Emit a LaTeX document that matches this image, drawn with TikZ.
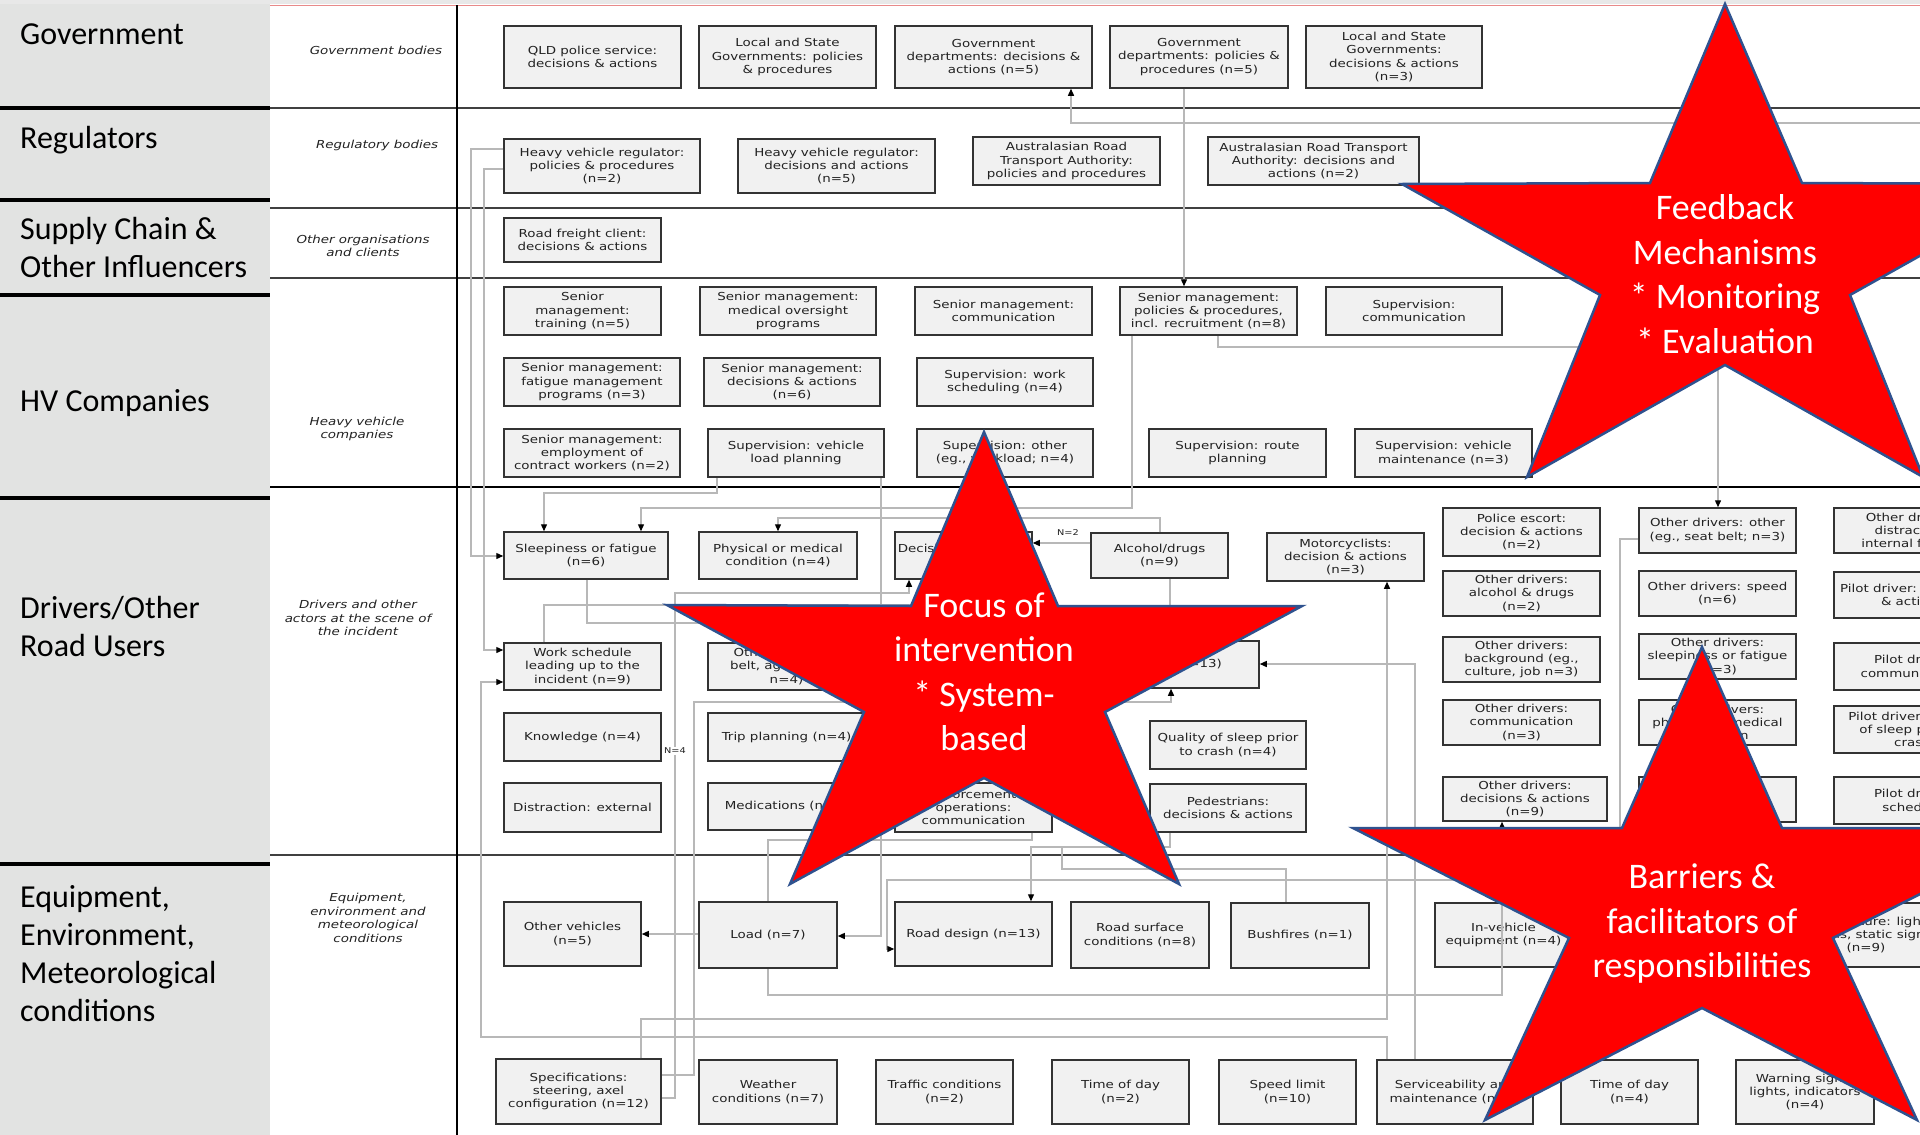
\documentclass[tikz,border=0pt]{standalone}
\usepackage{fontspec}
\setmainfont{Carlito}
\newfontfamily\boxfont[FakeStretch=1.22]{DejaVu Sans}
\newfontfamily\itlfont[FakeStretch=1.22]{DejaVu Sans Oblique}
\usetikzlibrary{arrows.meta,calc}
\definecolor{leftgrey}{HTML}{E2E3E2}
\definecolor{boxfill}{HTML}{F1F1F1}
\definecolor{boxdraw}{HTML}{333333}
\definecolor{textdark}{HTML}{222222}
\definecolor{conngrey}{HTML}{B8B8B8}
\definecolor{gridgrey}{HTML}{404040}
\definecolor{starred}{HTML}{FF0000}
\definecolor{starblue}{HTML}{2F528F}
\definecolor{pinkline}{HTML}{E88A8A}
\definecolor{topband}{HTML}{E8E8E8}
\tikzset{
  box/.style={draw=boxdraw, fill=boxfill, line width=1.5pt, inner sep=1pt, align=center, text=textdark,
    font=\boxfont\fontsize{11}{13.3}\selectfont},
  sidelabel/.style={anchor=north west, inner sep=0pt, align=left, font=\fontsize{32}{38}\selectfont},
  itlabel/.style={inner sep=0pt, align=center, text=textdark, font=\itlfont\fontsize{11}{13.5}\selectfont},
  conn/.style={draw=conngrey, line width=1.3pt},
  arr/.style={conn, -{Triangle[length=7pt,width=6pt,color=black]}},
  nlabel/.style={inner sep=1pt, font=\boxfont\fontsize{8}{9}\selectfont, text=textdark},
  starshape/.style={fill=starred, draw=starblue, line width=2.5pt, line join=miter},
  startext/.style={inner sep=0pt, align=center, text=white, font=\fontsize{36}{44.5}\selectfont},
  gridline/.style={draw=gridgrey, line width=2pt},
  leftrule/.style={draw=black, line width=3.5pt}
}
\newcommand{\mybox}[6]{%
  \pgfmathsetmacro{\bw}{#4-#2}\pgfmathsetmacro{\bh}{#5-#3}%
  \pgfmathsetmacro{\bcx}{(#2+#4)/2}\pgfmathsetmacro{\bcy}{(#3+#5)/2}%
  \node[box, minimum width=\bw pt, minimum height=\bh pt] (#1) at (\bcx,\bcy) {#6};}
\begin{document}
\begin{tikzpicture}[x=1pt,y=-1pt]
\useasboundingbox (0,0) rectangle (1920,1135);
\clip (0,0) rectangle (1920,1135);
\fill[white] (0,0) rectangle (1920,1135);
% background bands
\fill[topband] (0,0) rectangle (1920,4);
\fill[leftgrey] (0,4) rectangle (270,1135);
\draw[pinkline, line width=1pt] (270,5) -- (1920,5);
% left rules
\foreach \yy in {108,200,295,498,864} { \draw[leftrule] (0,\yy) -- (270,\yy); }
% grid
\foreach \yy in {108,208,278} { \draw[gridline] (270,\yy) -- (1920,\yy); }
\draw[gridline, draw=black, line width=2.2pt] (270,487) -- (1920,487);
\draw[gridline, line width=2.2pt] (270,855) -- (1920,855);
\draw[black, line width=2pt] (457,5) -- (457,1135);

% side labels
\node[sidelabel] (lgov) at (20,24) {Government};
\node[sidelabel] (lreg) at (20,126) {Regulators};
\node[sidelabel] (lsup) at (20,217) {Supply Chain \&\\Other Influencers};
\node[sidelabel] (lhv) at (20,389) {HV Companies};
\node[sidelabel] (ldrv) at (20,596) {Drivers/Other\\Road Users};
\node[sidelabel] (leqp) at (20,885) {Equipment,\\Environment,\\Meteorological\\conditions};

% italic labels
\node[itlabel] (igb) at (376,50) {Government bodies};
\node[itlabel] (irb) at (377,145) {Regulatory bodies};
\node[itlabel] (ioo) at (363,246) {Other organisations\\and clients};
\node[itlabel] (ihv) at (357,429) {Heavy vehicle\\companies};
\node[itlabel] (idr) at (358,618) {Drivers and other\\actors at the scene of\\the incident};
\node[itlabel] (ieq) at (368,918) {Equipment,\\environment and\\meteorological\\conditions};

% Government
\mybox{qld}{504}{26}{681}{88}{QLD police service:\\decisions \& actions}
\mybox{lsgp}{699}{26}{876}{88}{Local and State\\Governments: policies\\\& procedures}
\mybox{gdd}{895}{26}{1092}{88}{Government\\departments: decisions \&\\actions (n=5)}
\mybox{gdp}{1110}{26}{1288}{88}{Government\\departments: policies \&\\procedures (n=5)}
\mybox{lsgd}{1306}{26}{1482}{88}{Local and State\\Governments:\\decisions \& actions\\(n=3)}
% Regulators
\mybox{hvrp}{504}{139}{700}{193}{Heavy vehicle regulator:\\policies \& procedures\\(n=2)}
\mybox{hvrd}{738}{139}{935}{193}{Heavy vehicle regulator:\\decisions and actions\\(n=5)}
\mybox{artap}{973}{137}{1160}{185}{Australasian Road\\Transport Authority:\\policies and procedures}
\mybox{artad}{1208}{137}{1419}{185}{Australasian Road Transport\\Authority: decisions and\\actions (n=2)}
% Supply chain
\mybox{rfc}{504}{218}{661}{262}{Road freight client:\\decisions \& actions}
% HV companies
\mybox{smt}{504}{287}{661}{335}{Senior\\management:\\training (n=5)}
\mybox{smm}{700}{287}{876}{335}{Senior management:\\medical oversight\\programs}
\mybox{smc}{915}{287}{1092}{335}{Senior management:\\communication}
\mybox{smp}{1120}{287}{1297}{335}{Senior management:\\policies \& procedures,\\incl. recruitment (n=8)}
\mybox{supc}{1326}{287}{1502}{335}{Supervision:\\communication}
\mybox{smf}{504}{358}{680}{406}{Senior management:\\fatigue management\\programs (n=3)}
\mybox{smd}{704}{358}{880}{406}{Senior management:\\decisions \& actions\\(n=6)}
\mybox{supw}{917}{358}{1093}{406}{Supervision: work\\scheduling (n=4)}
\mybox{sme}{504}{429}{680}{477}{Senior management:\\employment of\\contract workers (n=2)}
\mybox{supl}{708}{429}{884}{477}{Supervision: vehicle\\load planning}
\mybox{supo}{917}{429}{1093}{477}{Supervision: other\\(eg., workload; n=4)}
\mybox{supr}{1149}{429}{1326}{477}{Supervision: route\\planning}
\mybox{supm}{1355}{429}{1532}{477}{Supervision: vehicle\\maintenance (n=3)}
% Drivers
\mybox{slp}{504}{532}{668}{579}{Sleepiness or fatigue\\(n=6)}
\mybox{phy}{699}{532}{857}{579}{Physical or medical\\condition (n=4)}
\mybox{dec}{895}{532}{1032}{579}{Decisions \& actions\\\phantom{(n)}}
\mybox{alc}{1091}{533}{1228}{578}{Alcohol/drugs\\(n=9)}
\mybox{mot}{1267}{533}{1424}{581}{Motorcyclists:\\decision \& actions\\(n=3)}
\mybox{wsch}{504}{643}{661}{690}{Work schedule\\leading up to the\\incident (n=9)}
\mybox{oth}{708}{643}{865}{690}{Other (eg., seat\\belt, age, speed;\\n=4)}
\mybox{n13}{1091}{641}{1259}{688}{Speed (n=13)}
\mybox{kno}{504}{713}{661}{761}{Knowledge (n=4)}
\mybox{trip}{708}{713}{865}{761}{Trip planning (n=4)}
\mybox{dis}{504}{783}{661}{832}{Distraction: external}
\mybox{med}{708}{783}{865}{830}{Medications (n=3)}
\mybox{enf}{895}{783}{1052}{832}{Enforcement\\operations:\\communication}
\mybox{qos}{1150}{721}{1306}{769}{Quality of sleep prior\\to crash (n=4)}
\mybox{ped}{1150}{784}{1306}{832}{Pedestrians:\\decisions \& actions}
\mybox{pol}{1443}{508}{1600}{556}{Police escort:\\decision \& actions\\(n=2)}
\mybox{oda}{1443}{571}{1600}{616}{Other drivers:\\alcohol \& drugs\\(n=2)}
\mybox{odb}{1443}{637}{1600}{682}{Other drivers:\\background (eg.,\\culture, job n=3)}
\mybox{odc}{1443}{700}{1600}{745}{Other drivers:\\communication\\(n=3)}
\mybox{odd}{1443}{777}{1607}{821}{Other drivers:\\decisions \& actions\\(n=9)}
\mybox{odo}{1639}{508}{1796}{553}{Other drivers: other\\(eg., seat belt; n=3)}
\mybox{ods}{1639}{571}{1796}{616}{Other drivers: speed\\(n=6)}
\mybox{odf}{1639}{634}{1796}{679}{Other drivers:\\sleepiness or fatigue\\(n=3)}
\mybox{odp}{1639}{700}{1796}{745}{Other drivers:\\physical or medical\\condition}
\mybox{odx}{1639}{777}{1796}{822}{}
\mybox{odi}{1834}{508}{1991}{553}{Other drivers:\\distraction:\\internal factors}
\mybox{pdd}{1834}{572}{1991}{618}{Pilot driver: decisions\\\& actions}
\mybox{pdc}{1834}{643}{1991}{690}{Pilot driver:\\communication}
\mybox{pdq}{1834}{706}{1991}{753}{Pilot driver: quality\\of sleep prior to\\crash}
\mybox{pds}{1834}{777}{1991}{824}{Pilot driver:\\schedule}
% Equipment
\mybox{ov}{504}{902}{641}{966}{Other vehicles\\(n=5)}
\mybox{load}{699}{902}{837}{968}{Load (n=7)}
\mybox{rd}{895}{902}{1052}{966}{Road design (n=13)}
\mybox{rs}{1071}{902}{1209}{968}{Road surface\\conditions (n=8)}
\mybox{bush}{1231}{903}{1369}{968}{Bushfires (n=1)}
\mybox{inv}{1435}{903}{1572}{967}{In-vehicle\\equipment (n=4)}
\mybox{inf}{1780}{903}{1952}{967}{Infrastructure: lights,\\signals, static signs\\(n=9)}
\mybox{spec}{496}{1059}{661}{1124}{Specifications:\\steering, axel\\configuration (n=12)}
\mybox{wea}{699}{1060}{837}{1124}{Weather\\conditions (n=7)}
\mybox{traf}{876}{1060}{1013}{1124}{Traffic conditions\\(n=2)}
\mybox{tod}{1052}{1060}{1189}{1124}{Time of day\\(n=2)}
\mybox{spd}{1219}{1060}{1356}{1124}{Speed limit\\(n=10)}
\mybox{serv}{1377}{1060}{1533}{1124}{Serviceability and\\maintenance (n=5)}
\mybox{todb}{1561}{1060}{1698}{1124}{Time of day\\(n=4)}
\mybox{warn}{1736}{1060}{1874}{1124}{Warning signs,\\lights, indicators\\(n=4)}

% connectors
\coordinate (rightend) at (1920,123);
\draw[arr] (1184,0 |- gdp.south) -- (1184,0 |- smp.north);
\draw[arr] (rightend) -- (1071,123) -- (1071,0 |- gdd.south);
\draw[conn] (1718,123) -- (1718,347);
\draw[arr] (1218,0 |- smp.south) -- (1218,347) -- (1718,347) -- (1718,0 |- odo.north);
\draw[arr] (hvrp.west |- 0,149) -- (471,149) -- (471,556) -- (slp.west |- 0,556);
\draw[arr] (hvrp.west |- 0,169) -- (484,169) -- (484,650) -- (wsch.west |- 0,650);
\draw[arr] (717,0 |- supl.south) -- (717,493) -- (544,493) -- (544,0 |- slp.north);
\draw[arr] (1132,0 |- smp.south) -- (1132,508) -- (641,508) -- (641,0 |- slp.north);
\draw[arr] (1160,0 |- alc.north) -- (1160,518) -- (778,518) -- (778,0 |- phy.north);
\draw[arr] (alc.west |- 0,543) -- (dec.east |- 0,543);
\node[nlabel] (n2) at (1068,533) {N=2};
\draw[arr] (881,0 |- supl.south) -- (881,936) -- (load.east |- 0,936);
\draw[arr] (odo.west |- 0,539) -- (1620,539) -- (1620,880) -- (887,880) -- (887,949) -- (rd.west |- 0,949);
\draw[arr] (spec.east |- 0,1098) -- (675,1098) -- (675,593) -- (909,593) -- (909,0 |- dec.south);
\node[nlabel, fill=white] (n4) at (675,751) {N=4};
\draw[arr] (spec.east |- 0,1075) -- (694,1075) -- (694,702) -- (1171,702) -- (1171,0 |- n13.south);
\draw[arr] (641,0 |- spec.north) -- (641,1019) -- (1387,1019) -- (1387,0 |- mot.south);
\draw[arr] (1387,0 |- serv.north) -- (1387,1037) -- (481,1037) -- (481,682) -- (wsch.west |- 0,682);
\draw[arr] (1415,0 |- serv.north) -- (1415,664) -- (n13.east |- 0,664);
\draw[arr] (load.west |- 0,934) -- (ov.east |- 0,934);
\draw[arr] (768,0 |- load.south) -- (768,995) -- (1502,995) -- (1502,0 |- odd.south);
\draw[conn] (1032,0 |- enf.south) -- (1032,840) -- (768,840) -- (768,0 |- load.north);
\draw[arr] (587,0 |- slp.south) -- (587,623) -- (1062,623) -- (1062,655) -- (n13.west |- 0,655);
\draw[arr] (544,0 |- wsch.north) -- (544,605) -- (960,605) -- (960,0 |- dec.south);
\draw[arr] (1170,0 |- ped.south) -- (1170,847) -- (1031,847) -- (1031,0 |- rd.north);
\draw[conn] (1062,847) -- (1062,869) -- (1286,869) -- (1286,0 |- bush.north);
\draw[conn] (1170,0 |- alc.south) -- (1170,0 |- n13.north);

% stars
\draw[starshape] (1725,4) -- (1802,183) -- (2048,184) -- (1850,295) -- (1923,477) -- (1725,365) -- (1527,477) -- (1600,295) -- (1402,184) -- (1650,183) -- cycle;
\draw[starshape] (984,432) -- (1058,606) -- (1302,606) -- (1105,712) -- (1179,884) -- (984,778) -- (790,884) -- (864,712) -- (667,605) -- (911,606) -- cycle;
\draw[starshape] (1702,647) -- (1782,828) -- (2051,828) -- (1833,938) -- (1917,1120) -- (1702,1008) -- (1485,1120) -- (1569,938) -- (1353,828) -- (1622,828) -- cycle;
\node[startext] (st1) at (1725,274) {Feedback\\Mechanisms\\* Monitoring\\* Evaluation};
\node[startext] (st2) at (984,672) {Focus of\\intervention\\* System-\\based};
\node[startext] (st3) at (1702,924) {Barriers \&\\facilitators of\\responsibilities};
\end{tikzpicture}
\end{document}
